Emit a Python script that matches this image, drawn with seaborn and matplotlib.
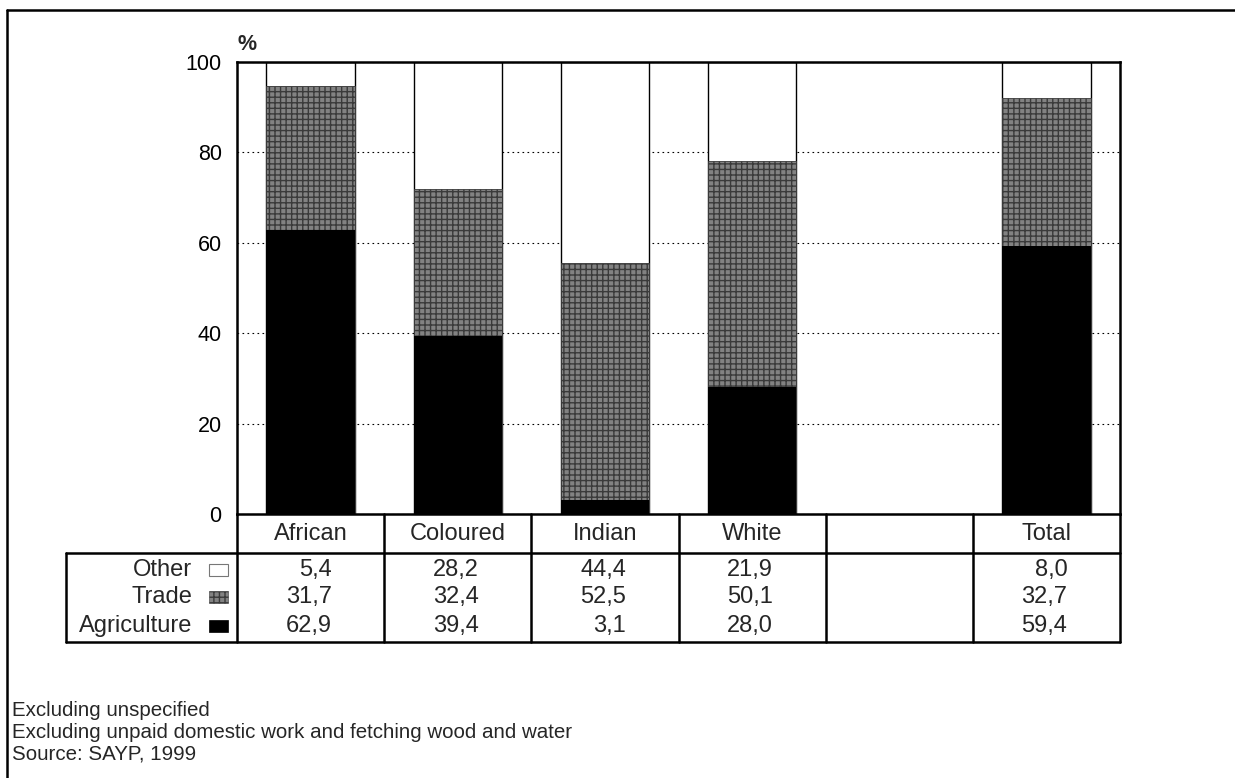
import matplotlib
matplotlib.use("Agg")
import matplotlib.pyplot as plt
from matplotlib.lines import Line2D
from matplotlib.patches import Rectangle
import seaborn as sns
import pandas as pd

# values (percent of employed, by population group)
groups = ["African", "Coloured", "Indian", "White", "", "Total"]
other = [5.4, 28.2, 44.4, 21.9, None, 8.0]
trade = [31.7, 32.4, 52.5, 50.1, None, 32.7]
agriculture = [62.9, 39.4, 3.1, 28.0, None, 59.4]
row_names = ["Other", "Trade", "Agriculture"]
footnotes = ["Excluding unspecified",
             "Excluding unpaid domestic work and fetching wood and water",
             "Source: SAYP, 1999"]

df = pd.DataFrame({"group": groups, "other": other, "trade": trade, "agri": agriculture})
df["mid"] = df["trade"] + df["agri"]
df["top"] = df["other"] + df["mid"]
bars = df.dropna()

sns.set_theme(style="white")
plt.rcParams["font.family"] = ["Liberation Sans", "DejaVu Sans"]
plt.rcParams["hatch.linewidth"] = 1.0

W, H = 1235, 778
fig = plt.figure(figsize=(W / 100, H / 100), dpi=100)


def fx(px):
    return px / W


def fy(py):
    return 1 - py / H


TRADE_FACE = "#828282"
TRADE_HATCH = "#3a3a3a"

ax = fig.add_axes([fx(237), fy(514), fx(1120) - fx(237), fy(62) - fy(514)])

# stacked bars: draw cumulative totals, tallest first
sns.barplot(data=bars, x="group", y="top", order=groups, color="white", saturation=1,
            edgecolor="black", linewidth=1.0, width=0.6, ax=ax)
sns.barplot(data=bars, x="group", y="mid", order=groups, color=TRADE_FACE, saturation=1,
            edgecolor=TRADE_HATCH, hatch="+++", linewidth=0.6, width=0.6, ax=ax)
sns.barplot(data=bars, x="group", y="agri", order=groups, color="black", saturation=1,
            linewidth=0, width=0.6, ax=ax)

ax.set_xlim(-0.5, len(groups) - 0.5)
ax.set_ylim(0, 100)
ax.set_yticks(range(0, 101, 20))
ax.set_axisbelow(True)
ax.yaxis.grid(True, color="black", linestyle=(0, (1.5, 3)), linewidth=0.8)
ax.set_xticks([])
ax.set_xlabel("")
ax.set_ylabel("")
ax.tick_params(axis="y", length=0, pad=11, labelsize=15.5, labelcolor="black")
for s in ax.spines.values():
    s.set_visible(True)
    s.set_color("black")
    s.set_linewidth(1.8)

fig.text(fx(237), fy(45), "%", fontsize=15.5, fontweight="bold", ha="left", va="center")

# table under the bars
tab = fig.add_axes([fx(66), fy(642), fx(1120) - fx(66), fy(514) - fy(642)])
tab.axis("off")
slot = (1120 - 237) / len(groups)
x0 = -0.5 - (237 - 66) / slot
x1 = len(groups) - 0.5
tab.set_xlim(x0, x1)
tab.set_ylim(128, 0)

lw = 1.8
tab.plot([x0, x1], [39, 39], color="black", lw=lw, clip_on=False)
tab.plot([x0, x1], [128, 128], color="black", lw=lw, clip_on=False)
tab.plot([x0, x0], [39, 128], color="black", lw=lw, clip_on=False)
for k in range(len(groups) + 1):
    tab.plot([k - 0.5, k - 0.5], [0, 128], color="black", lw=lw, clip_on=False)

FS = 17
for i, g in enumerate(groups):
    tab.text(i, 20, g, ha="center", va="center", fontsize=FS)

row_y = [56, 83, 112]
series = [other, trade, agriculture]
for yy, vals in zip(row_y, series):
    for i, v in enumerate(vals):
        if v is None:
            continue
        tab.text(i + 0.143, yy, f"{v:.1f}".replace(".", ","), ha="right", va="center", fontsize=FS)

lab_x = -0.5 - (237 - 192) / slot
sw_x = -0.5 - (237 - 209) / slot
sw_w = 19 / slot
styles = [dict(facecolor="white", edgecolor="#777777", lw=0.8),
          dict(facecolor=TRADE_FACE, edgecolor=TRADE_HATCH, hatch="+++", lw=0.4),
          dict(facecolor="black", edgecolor="black", lw=0.5)]
for yy, name, st in zip(row_y, row_names, styles):
    tab.text(lab_x, yy, name, ha="right", va="center", fontsize=FS)
    tab.add_patch(Rectangle((sw_x, yy - 6), sw_w, 12, clip_on=False, **st))

# outer frame (top and left)
fig.add_artist(Line2D([fx(7), 1], [fy(10), fy(10)], color="black", lw=1.8))
fig.add_artist(Line2D([fx(7), fx(7)], [fy(10), 0], color="black", lw=1.8))

for k, note in enumerate(footnotes):
    fig.text(fx(12), fy(711 + 21.5 * k), note, fontsize=14.8, ha="left", va="center")

fig.savefig("out.png", dpi=100)
